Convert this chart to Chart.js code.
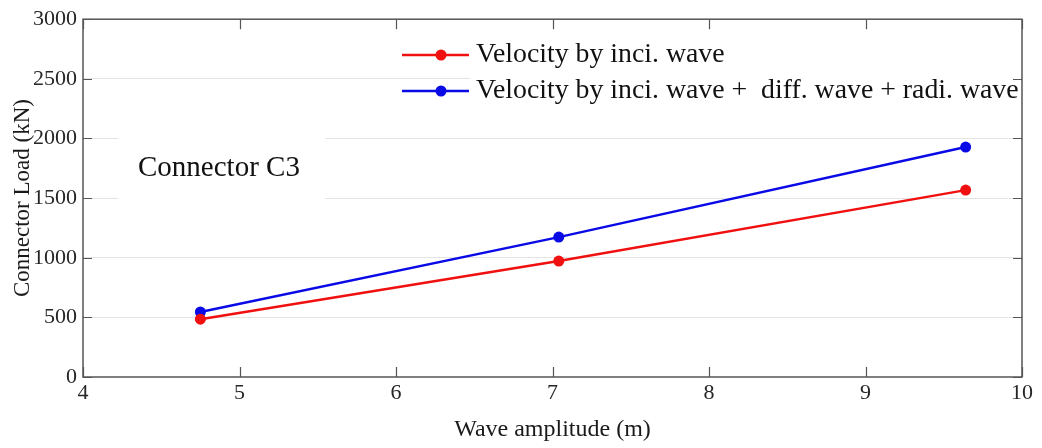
<!DOCTYPE html>
<html>
<head>
<meta charset="utf-8">
<script src="https://cdn.jsdelivr.net/npm/chart.js@4.4.1/dist/chart.umd.min.js"></script>
<style>
  html, body { margin: 0; padding: 0; background: #fff; }
  #wrap { width: 1042px; height: 448px; }
</style>
</head>
<body>
<div id="wrap"><canvas id="chart" width="1042" height="448"></canvas></div>
<script>
const amplitudes  = [4.75, 7.04, 9.64];
const loadInci    = [485, 972, 1567];
const loadTotal   = [545, 1173, 1928];
const seriesNames = ["Velocity by inci. wave", "Velocity by inci. wave +  diff. wave + radi. wave"];
const seriesColors = ["#f01010", "#0a0ae6"];
const xTicks = [4, 5, 6, 7, 8, 9, 10];
const yTicks = [0, 500, 1000, 1500, 2000, 2500, 3000];
const noteText = "Connector C3";

const SERIF = "'Liberation Serif', 'Times New Roman', serif";
const AXIS  = "#555555";

const pts = vals => amplitudes.map((x, i) => ({ x, y: vals[i] }));

// cadre façon MATLAB : boîte + graduations vers l'intérieur, légende, annotation
const framePlugin = {
  id: "frame",
  afterDraw(chart) {
    const { ctx, chartArea: a, scales: { x, y } } = chart;
    ctx.save();

    // boîte annotation (masque la grille)
    ctx.fillStyle = "#fff";
    ctx.fillRect(118, 128, 207, 78);
    ctx.fillStyle = "#111";
    ctx.font = `29px ${SERIF}`;
    ctx.textBaseline = "middle";
    ctx.textAlign = "left";
    ctx.fillText(noteText, 138, 168);

    // légende
    ctx.fillStyle = "#fff";
    ctx.fillRect(470, 38, a.right - 471, 72);
    ctx.font = `27.8px ${SERIF}`;
    chart.data.datasets.forEach((ds, i) => {
      const yy = 55 + i * 36;
      ctx.strokeStyle = ds.borderColor;
      ctx.lineWidth = 2.5;
      ctx.beginPath();
      ctx.moveTo(402, yy);
      ctx.lineTo(469, yy);
      ctx.stroke();
      ctx.fillStyle = ds.borderColor;
      ctx.beginPath();
      ctx.arc(441, yy, 5.5, 0, Math.PI * 2);
      ctx.fill();
      ctx.fillStyle = "#111";
      ctx.fillText(ds.label, 476, yy);
    });

    // cadre
    ctx.strokeStyle = AXIS;
    ctx.lineWidth = 1.5;
    ctx.strokeRect(a.left, a.top, a.right - a.left, a.bottom - a.top);

    ctx.lineWidth = 1.2;
    ctx.beginPath();
    xTicks.forEach(v => {
      const px = Math.round(x.getPixelForValue(v)) + 0.5;
      ctx.moveTo(px, a.bottom); ctx.lineTo(px, a.bottom - 10);
      ctx.moveTo(px, a.top);    ctx.lineTo(px, a.top + 10);
    });
    yTicks.forEach(v => {
      const py = Math.round(y.getPixelForValue(v)) + 0.5;
      ctx.moveTo(a.left, py);  ctx.lineTo(a.left + 9, py);
      ctx.moveTo(a.right, py); ctx.lineTo(a.right - 9, py);
    });
    ctx.stroke();
    ctx.restore();
  },
};

new Chart(document.getElementById("chart"), {
  type: "line",
  data: {
    datasets: [
      {
        label: seriesNames[0],
        data: pts(loadInci),
        borderColor: seriesColors[0],
        backgroundColor: seriesColors[0],
        borderWidth: 2.5,
        pointRadius: 5.5,
        pointBorderWidth: 0,
        tension: 0,
      },
      {
        label: seriesNames[1],
        data: pts(loadTotal),
        borderColor: seriesColors[1],
        backgroundColor: seriesColors[1],
        borderWidth: 2.5,
        pointRadius: 5.5,
        pointBorderWidth: 0,
        tension: 0,
      },
    ],
  },
  options: {
    responsive: false,
    animation: false,
    layout: { padding: { top: 19, right: 20, left: 0, bottom: 0 } },
    plugins: { legend: { display: false }, tooltip: { enabled: false } },
    scales: {
      x: {
        type: "linear",
        min: 4, max: 10,
        afterBuildTicks: s => { s.ticks = xTicks.map(v => ({ value: v })); },
        afterFit: s => { s.height = 71; },
        ticks: { color: "#262626", padding: 3, font: { family: SERIF, size: 22 }, callback: v => String(v) },
        grid: { display: false, drawTicks: false },
        border: { display: false },
        title: {
          display: true, text: "Wave amplitude (m)", color: "#1a1a1a",
          font: { family: SERIF, size: 24 }, padding: { top: 0, bottom: 4 },
        },
      },
      y: {
        min: 0, max: 3000,
        afterBuildTicks: s => { s.ticks = yTicks.map(v => ({ value: v })); },
        afterFit: s => { s.width = 83; },
        ticks: { color: "#262626", padding: 6, font: { family: SERIF, size: 22 }, callback: v => String(v) },
        grid: {
          drawTicks: false,
          color: c => (c.tick && (c.tick.value === 0 || c.tick.value === 3000)) ? "rgba(0,0,0,0)" : "#e4e4e4",
        },
        border: { display: false },
        title: {
          display: true, text: "Connector Load (kN)", color: "#1a1a1a",
          font: { family: SERIF, size: 23 }, padding: { top: 9, bottom: 0 },
        },
      },
    },
  },
  plugins: [framePlugin],
});
</script>
</body>
</html>
